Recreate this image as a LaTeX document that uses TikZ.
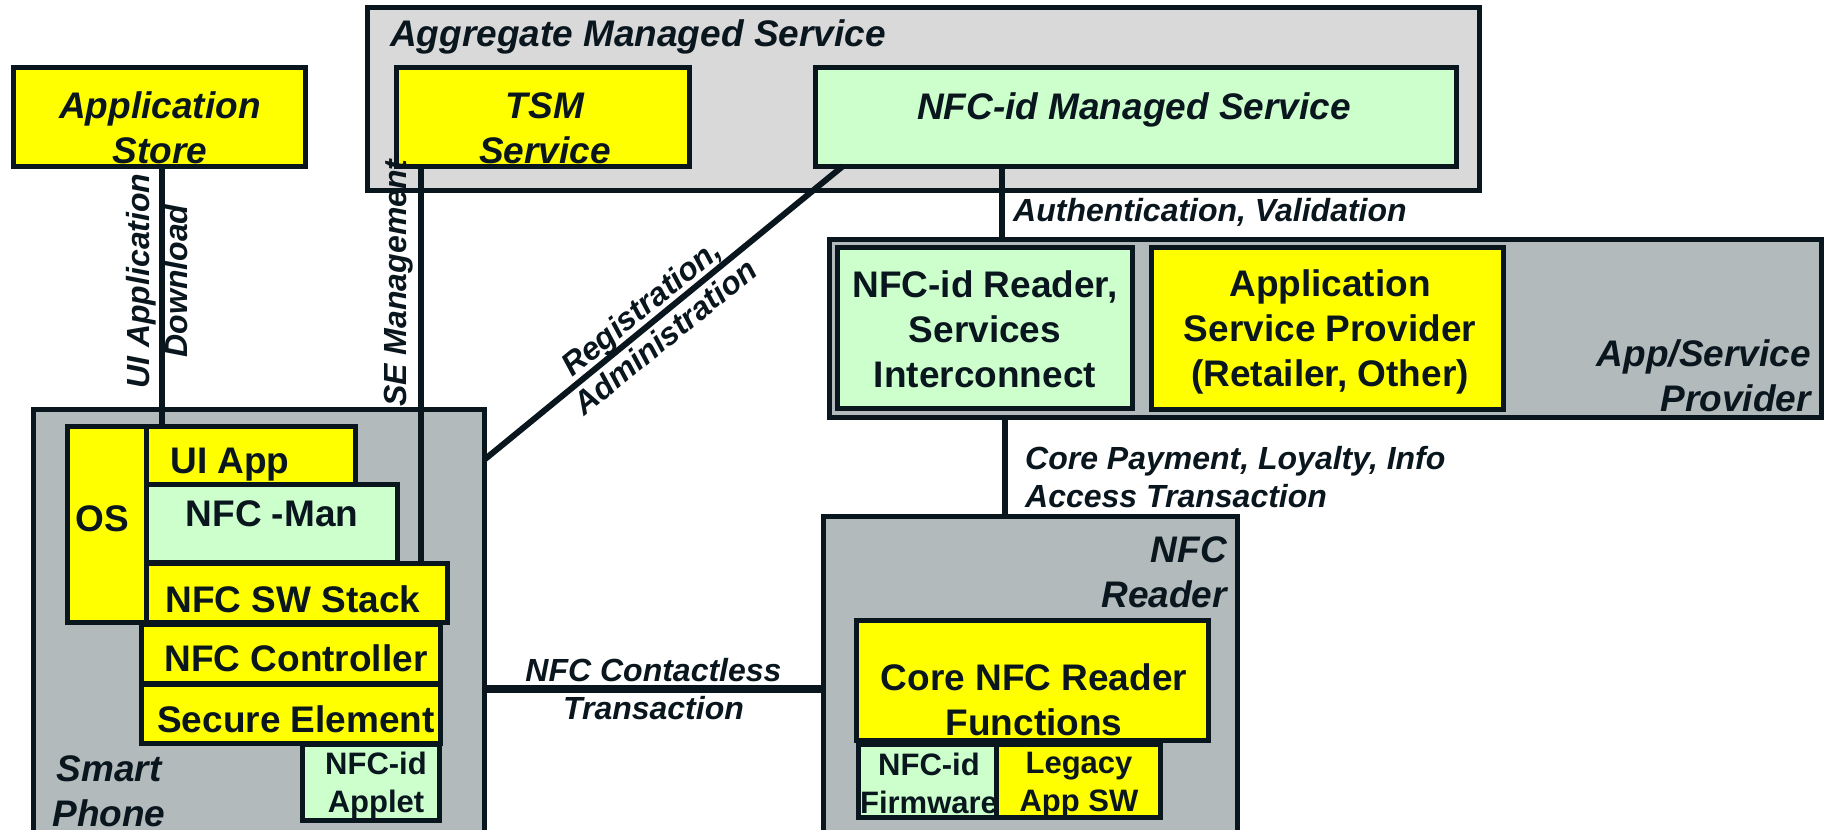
\documentclass[tikz,border=0pt]{standalone}
\usepackage{fontspec}
\setmainfont{Liberation Sans}
\usetikzlibrary{fit,calc}
\definecolor{ink}{RGB}{10,22,30}
\definecolor{ygold}{RGB}{255,255,0}
\definecolor{lgreen}{RGB}{204,255,204}
\definecolor{cgray}{RGB}{179,186,188}
\definecolor{agray}{RGB}{217,217,217}
\begin{document}
\begin{tikzpicture}[x=1pt,y=-1pt,
  box/.style={draw=ink, line width=5pt, inner sep=0pt, outer sep=0pt},
  ybox/.style={box, fill=ygold},
  gbox/.style={box, fill=lgreen},
  cont/.style={box, fill=cgray},
  link/.style={draw=ink, line width=6pt},
  big/.style={font=\fontsize{37}{45}\selectfont\bfseries, text=ink, inner sep=0pt, align=center},
  bigit/.style={big, font=\fontsize{37}{45}\selectfont\bfseries\itshape},
  small/.style={font=\fontsize{31}{38}\selectfont\bfseries, text=ink, inner sep=0pt, align=center},
  linkit/.style={small, font=\fontsize{32}{38}\selectfont\bfseries\itshape},
]
\useasboundingbox (0,0) rectangle (1824,830);
\fill[white] (0,0) rectangle (1824,830);

% containers
\node[box, fill=agray, fit={(367,7) (1479,190)}] (agg) {};
\node[cont, fit={(829,239) (1821,417)}] (aspc) {};
\node[cont, fit={(33,409) (484,870)}] (phone) {};
\node[cont, fit={(823,516) (1237,870)}] (reader) {};

% top boxes
\node[ybox, fit={(13,67) (305,166)}] (appstore) {};
\node[ybox, fit={(396,67) (689,166)}] (tsm) {};
\node[gbox, fit={(815,67) (1456,166)}] (nfcms) {};
\node[gbox, fit={(837,247) (1132,408)}] (nfcrd) {};
\node[ybox, fit={(1151,247) (1503,409)}] (aspbox) {};

% phone boxes
\node[ybox, fit={(67,426) (146,622)}] (os) {};
\node[ybox, fit={(146,426) (355,484)}] (uiapp) {};
\node[gbox, fit={(146,484) (397,562)}] (nfcman) {};
\node[ybox, fit={(146,563) (447,622)}] (swstack) {};
\node[ybox, fit={(141,624) (440,683)}] (ctrl) {};
\node[ybox, fit={(141,684) (440,743)}] (se) {};
\node[gbox, fit={(302,744) (439,820)}] (applet) {};

% reader boxes
\node[ybox, fit={(856,620) (1208,740)}] (core) {};
\node[gbox, fit={(858,744) (996,817)}] (firm) {};
\node[small] (tfirm) at (929,783) {NFC-id\\Firmware};
\node[ybox, fit={(996,744) (1160,817)}] (legacy) {};

% connectors
\coordinate (uiA) at ([xshift=3pt]appstore.south);
\draw[link] (uiA) -- (uiA |- uiapp.north);
\coordinate (seA) at ([xshift=-26pt]swstack.north east);
\draw[link] (seA) -- (seA |- tsm.south);
\coordinate (regA) at ([xshift=28pt]nfcms.south west);
\coordinate (regB) at ([yshift=-51pt]phone.north east);
\draw[link] (regA) -- (regB) node[linkit, sloped, pos=0.53] (treg) {Registration,\\Administration};
\coordinate (auA) at ([xshift=-133.5pt]nfcms.south);
\draw[link] (auA) -- (auA |- aspc.north);
\coordinate (cpA) at ([xshift=-320pt]aspc.south);
\draw[link] (cpA) -- (cpA |- reader.north);
\coordinate (ncA) at ([yshift=-49.5pt]phone.east);
\draw[link, line width=8pt] (ncA) -- (ncA -| reader.west) node[linkit, midway] (tnc) {NFC Contactless\\Transaction};

% connector labels
\node[linkit, rotate=90] (tui) at (157.5,281) {UI Application\\Download};
\node[linkit, rotate=90] (tse) at (399,283) {SE Management};
\node[linkit, anchor=west] (tau) at (1013,212) {Authentication, Validation};
\node[linkit, anchor=west, align=left] (tcp) at (1025,477.5) {Core Payment, Loyalty, Info\\Access Transaction};

% box labels
\node[bigit, anchor=west] (tagg) at (390,36.5) {Aggregate Managed Service};
\node[bigit] (tappstore) at (160,127.5) {Application\\Store};
\node[bigit] (ttsm) at (545,128) {TSM\\Service};
\node[bigit] (tnfcms) at (1134,110) {NFC-id Managed Service};
\node[big] (tnfcrd) at (985,329) {NFC-id Reader,\\Services\\Interconnect};
\node[big] (tasp) at (1330,332) {Application\\Service Provider\\(Retailer, Other)};
\node[bigit, anchor=east, align=right] (taspc) at (1811,376) {App/Service\\Provider};
\node[big] (tui2) at (230,464.5) {UI App};
\node[big] (tman) at (272,514) {NFC -Man};
\node[big] (tsw) at (293,599) {NFC SW Stack};
\node[big] (tos) at (102,519) {OS};
\node[big] (tctrl) at (296,658.5) {NFC Controller};
\node[big] (tse2) at (296,719) {Secure Element};
\node[small] (tapplet) at (376,785) {NFC-id\\Applet};
\node[bigit] (tphone) at (109,791) {Smart\\Phone};
\node[bigit, anchor=east, align=right] (treader) at (1227,572.5) {NFC\\Reader};
\node[big] (tcore) at (1034,700) {Core NFC Reader\\Functions};
\node[small] (tlegacy) at (1079,785) {Legacy\\App SW};
\end{tikzpicture}
\end{document}
